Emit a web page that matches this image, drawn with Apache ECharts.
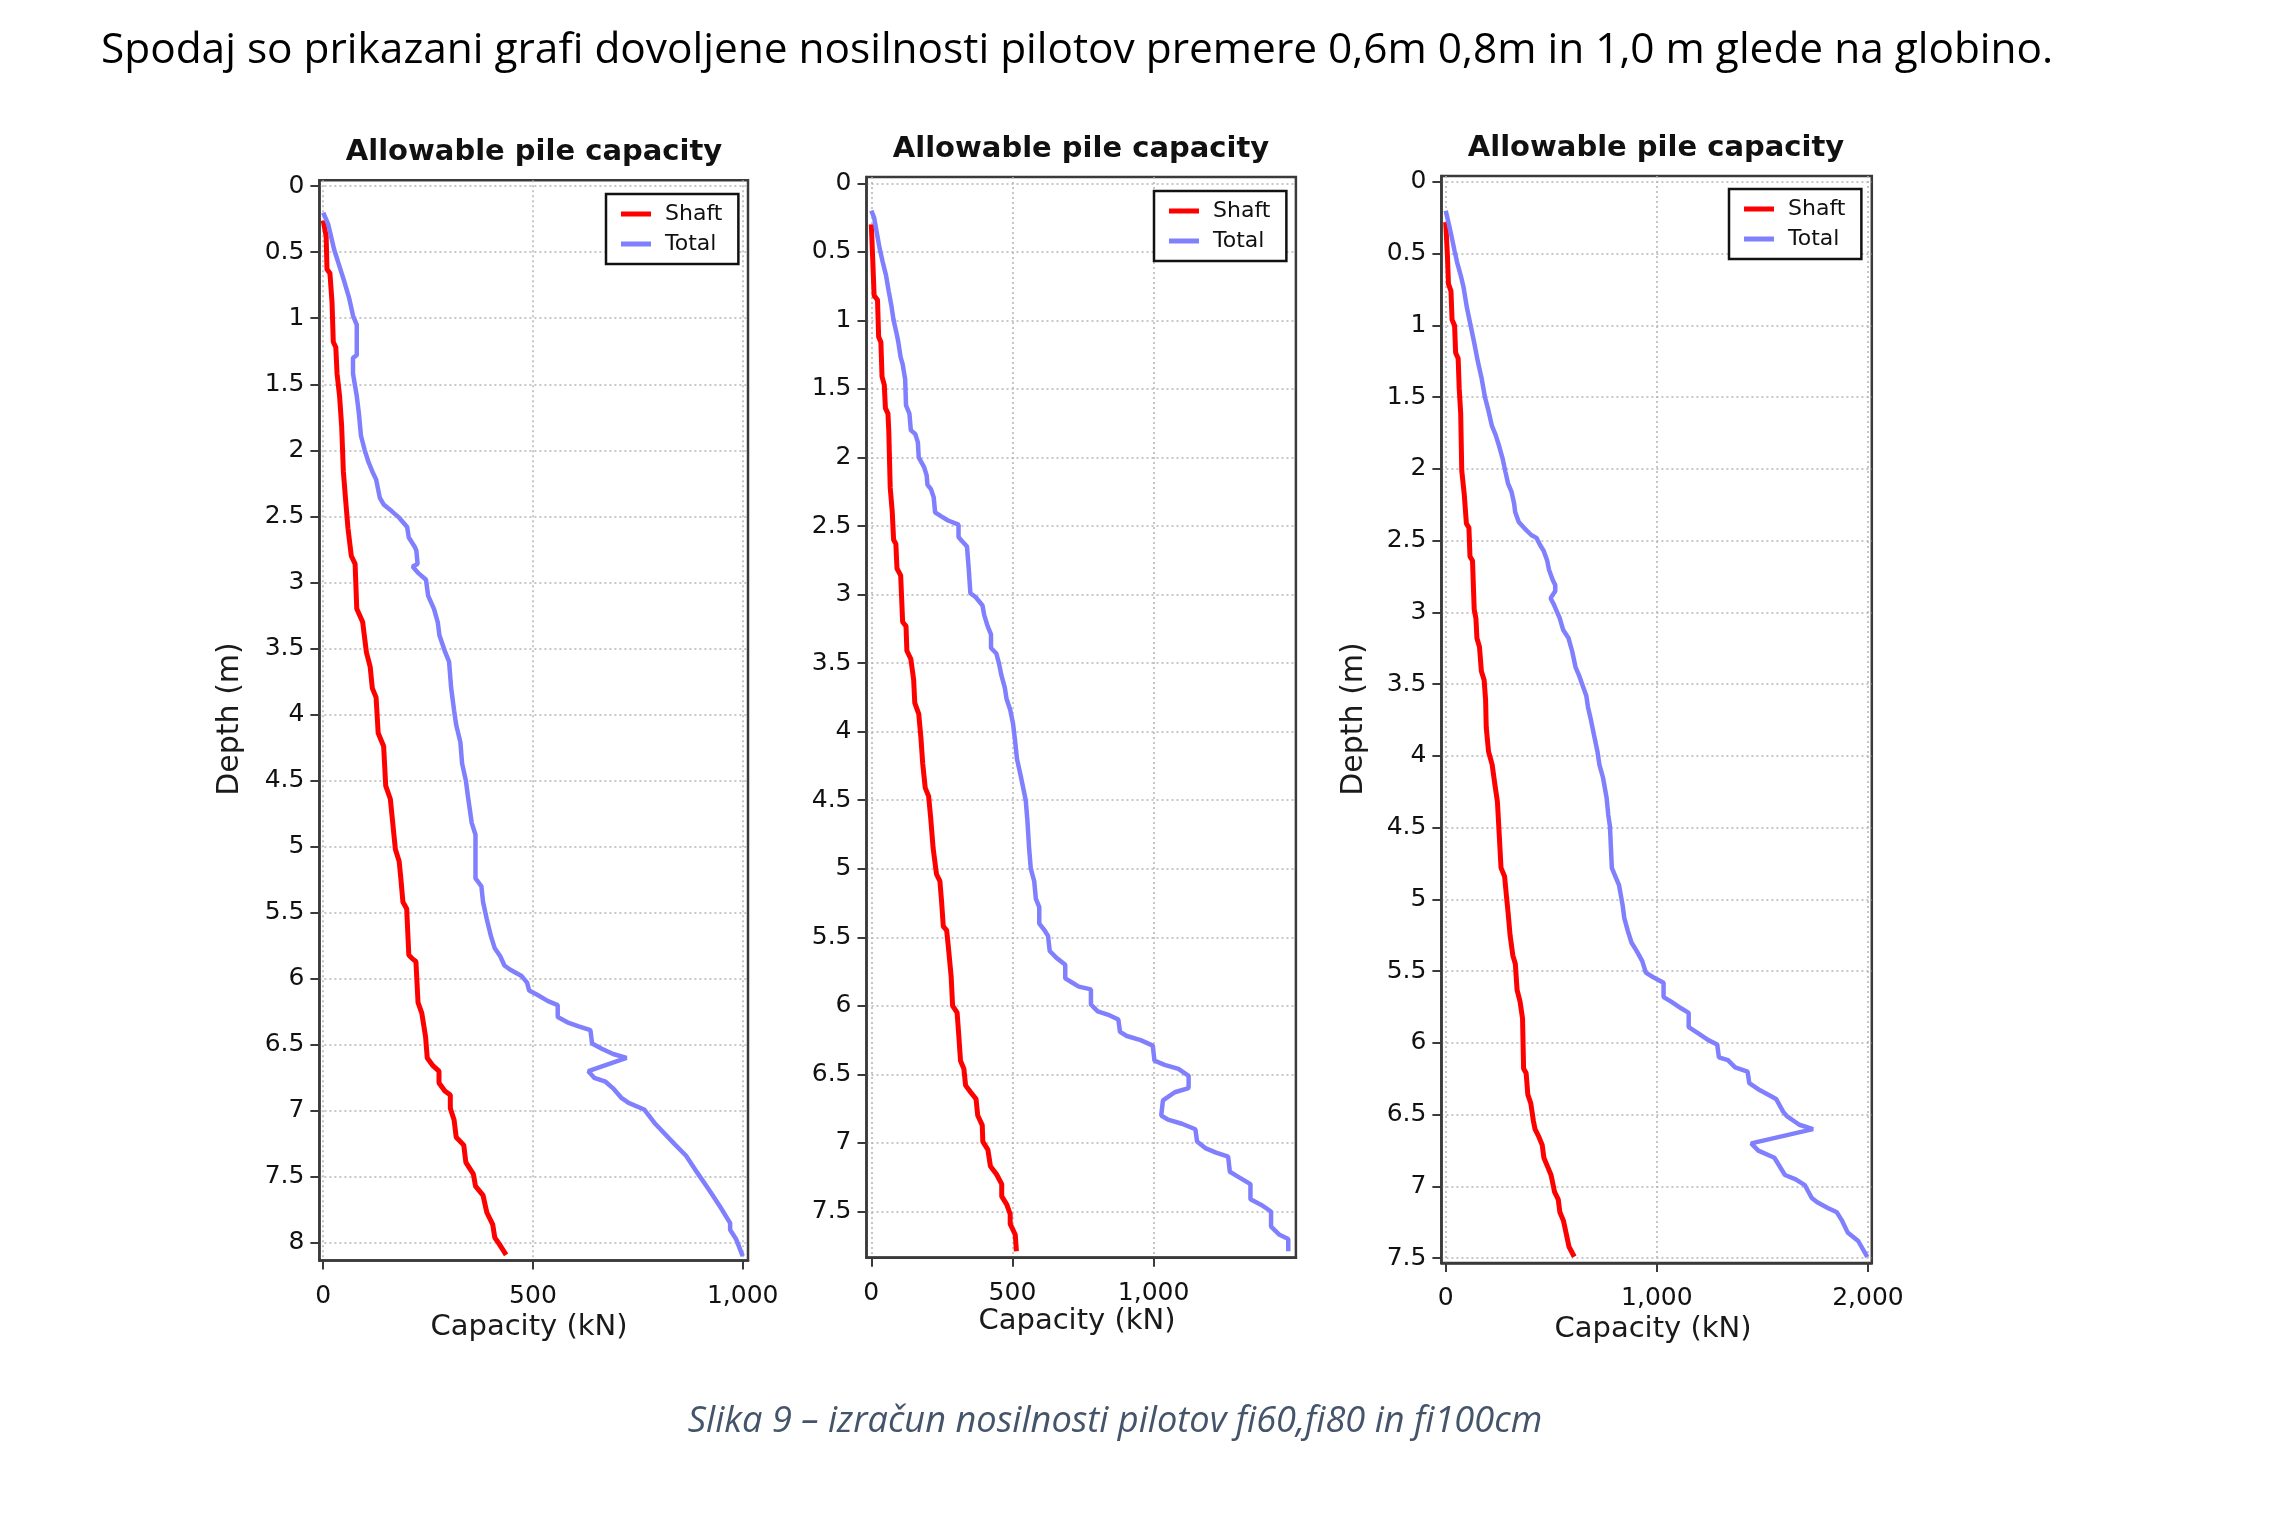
<!DOCTYPE html>
<html>
<head>
<meta charset="utf-8">
<title>Allowable pile capacity</title>
<script src="https://cdn.jsdelivr.net/npm/echarts@6/dist/echarts.min.js"></script>
<style>
  html, body { margin: 0; padding: 0; background: #fff; }
  #chart { width: 2282px; height: 1529px; }
</style>
</head>
<body>
<div id="chart"></div>
<script>
// pilot fi60 (0,6 m)
const shaft60Depth = [0.26, 0.38, 0.63, 0.66, 0.88, 1.18, 1.22, 1.42, 1.59, 1.82, 2.16, 2.36, 2.59, 2.8, 2.86, 3.2, 3.3, 3.53, 3.64, 3.8, 3.87, 4.14, 4.24, 4.54, 4.64, 5.02, 5.11, 5.24, 5.42, 5.47, 5.82, 5.85, 5.87, 6.18, 6.26, 6.44, 6.6, 6.66, 6.7, 6.79, 6.85, 6.88, 6.98, 7.07, 7.2, 7.26, 7.39, 7.48, 7.57, 7.64, 7.77, 7.86, 7.96, 8.02, 8.09]
const shaft60Cap = [0, 7, 9, 16, 21, 24, 30, 33, 39, 44, 48, 53, 59, 67, 76, 80, 94, 103, 112, 117, 126, 131, 144, 149, 160, 172, 181, 185, 190, 199, 204, 213, 221, 226, 235, 244, 248, 262, 276, 276, 290, 303, 303, 312, 317, 335, 340, 358, 363, 381, 390, 404, 409, 422, 436]
const total60Depth = [0.2, 0.29, 0.48, 0.71, 0.85, 0.98, 1.05, 1.28, 1.3, 1.42, 1.59, 1.72, 1.89, 2.0, 2.09, 2.16, 2.22, 2.36, 2.41, 2.46, 2.51, 2.58, 2.66, 2.73, 2.76, 2.86, 2.88, 2.93, 2.98, 3.1, 3.2, 3.3, 3.4, 3.53, 3.6, 3.8, 3.97, 4.08, 4.21, 4.37, 4.5, 4.62, 4.82, 4.91, 5.24, 5.3, 5.42, 5.55, 5.68, 5.77, 5.83, 5.9, 5.93, 5.98, 6.03, 6.09, 6.12, 6.17, 6.2, 6.29, 6.33, 6.36, 6.39, 6.49, 6.53, 6.57, 6.6, 6.7, 6.75, 6.78, 6.83, 6.9, 6.94, 6.99, 7.1, 7.25, 7.34, 7.47, 7.6, 7.73, 7.85, 7.9, 7.97, 8.1]
const total60Cap = [0, 12, 26, 49, 62, 71, 80, 80, 71, 71, 80, 85, 90, 99, 108, 117, 126, 135, 144, 163, 181, 200, 204, 218, 222, 225, 213, 227, 245, 250, 264, 273, 277, 291, 300, 305, 312, 317, 327, 331, 340, 345, 354, 363, 363, 377, 381, 390, 400, 409, 422, 432, 445, 473, 486, 491, 509, 536, 559, 559, 582, 609, 637, 641, 664, 691, 723, 632, 646, 673, 691, 710, 728, 765, 792, 837, 865, 892, 920, 947, 970, 970, 984, 1000]

// pilot fi80 (0,8 m)
const shaft80Depth = [0.3, 0.5, 0.82, 0.85, 1.12, 1.16, 1.41, 1.47, 1.64, 1.68, 1.81, 2.22, 2.39, 2.6, 2.63, 2.81, 2.86, 3.2, 3.23, 3.41, 3.47, 3.62, 3.79, 3.87, 4.05, 4.23, 4.41, 4.47, 4.62, 4.85, 5.04, 5.09, 5.24, 5.42, 5.45, 5.57, 5.79, 6.0, 6.05, 6.22, 6.4, 6.46, 6.58, 6.63, 6.68, 6.8, 6.87, 6.99, 7.05, 7.17, 7.23, 7.3, 7.39, 7.45, 7.52, 7.59, 7.67, 7.79]
const shaft80Cap = [0, 4, 10, 22, 26, 34, 38, 46, 50, 59, 62, 67, 74, 79, 87, 91, 104, 111, 123, 126, 140, 150, 154, 168, 176, 182, 191, 203, 210, 219, 231, 243, 249, 255, 267, 273, 283, 288, 304, 310, 316, 328, 334, 352, 371, 377, 393, 395, 413, 422, 444, 462, 462, 480, 492, 492, 510, 514]
const total80Depth = [0.2, 0.25, 0.39, 0.48, 0.57, 0.67, 0.79, 0.89, 1.0, 1.09, 1.15, 1.27, 1.32, 1.43, 1.62, 1.68, 1.8, 1.83, 1.89, 2.0, 2.07, 2.13, 2.2, 2.23, 2.29, 2.4, 2.43, 2.46, 2.49, 2.58, 2.61, 2.65, 2.81, 2.99, 3.02, 3.08, 3.15, 3.23, 3.29, 3.39, 3.43, 3.5, 3.59, 3.68, 3.76, 3.84, 3.94, 4.08, 4.2, 4.32, 4.44, 4.5, 4.65, 4.85, 5.0, 5.09, 5.22, 5.28, 5.4, 5.45, 5.49, 5.6, 5.65, 5.7, 5.8, 5.83, 5.86, 5.88, 5.99, 6.04, 6.07, 6.1, 6.19, 6.22, 6.25, 6.29, 6.4, 6.43, 6.46, 6.51, 6.6, 6.63, 6.69, 6.8, 6.83, 6.86, 6.9, 6.99, 7.04, 7.07, 7.1, 7.21, 7.24, 7.3, 7.41, 7.45, 7.5, 7.61, 7.67, 7.7, 7.79]
const total80Cap = [0, 10, 22, 30, 40, 52, 62, 71, 79, 89, 95, 104, 111, 120, 123, 135, 140, 156, 165, 168, 187, 196, 199, 211, 221, 226, 248, 272, 309, 309, 321, 339, 345, 351, 370, 394, 400, 412, 424, 424, 443, 452, 461, 473, 479, 492, 502, 510, 516, 529, 541, 547, 553, 559, 565, 577, 583, 595, 595, 614, 626, 632, 656, 687, 687, 711, 735, 778, 778, 802, 845, 875, 881, 905, 954, 997, 1003, 1039, 1088, 1124, 1124, 1075, 1033, 1027, 1051, 1100, 1148, 1154, 1185, 1221, 1264, 1270, 1294, 1343, 1343, 1380, 1416, 1416, 1446, 1477, 1477]

// pilot fi100 (1,0 m)
const shaft100Depth = [0.28, 0.51, 0.71, 0.76, 0.96, 1.0, 1.19, 1.23, 1.44, 1.61, 2.01, 2.18, 2.38, 2.41, 2.61, 2.64, 2.98, 3.04, 3.18, 3.24, 3.41, 3.47, 3.61, 3.8, 3.97, 4.06, 4.2, 4.32, 4.56, 4.78, 4.84, 4.98, 5.1, 5.25, 5.39, 5.45, 5.63, 5.71, 5.83, 6.18, 6.21, 6.36, 6.42, 6.54, 6.6, 6.65, 6.71, 6.8, 6.86, 6.92, 7.04, 7.09, 7.18, 7.24, 7.33, 7.42, 7.49]
const shaft100Cap = [0, 8, 13, 25, 30, 42, 47, 59, 64, 71, 76, 88, 98, 110, 115, 127, 135, 143, 148, 160, 169, 182, 189, 192, 203, 220, 233, 245, 254, 262, 279, 288, 296, 305, 318, 330, 338, 352, 364, 369, 381, 389, 403, 415, 423, 440, 457, 465, 482, 499, 516, 533, 541, 558, 571, 584, 609]
const total100Depth = [0.2, 0.25, 0.36, 0.48, 0.56, 0.65, 0.73, 0.88, 1.0, 1.12, 1.25, 1.36, 1.5, 1.59, 1.7, 1.76, 1.84, 1.93, 2.02, 2.1, 2.16, 2.24, 2.3, 2.37, 2.41, 2.46, 2.48, 2.53, 2.57, 2.64, 2.7, 2.77, 2.81, 2.85, 2.9, 2.95, 3.04, 3.12, 3.18, 3.27, 3.38, 3.44, 3.51, 3.58, 3.66, 3.75, 3.85, 3.97, 4.06, 4.15, 4.29, 4.41, 4.49, 4.78, 4.84, 4.9, 5.04, 5.13, 5.22, 5.3, 5.36, 5.43, 5.51, 5.54, 5.58, 5.68, 5.71, 5.76, 5.79, 5.89, 5.93, 5.98, 6.01, 6.1, 6.12, 6.17, 6.2, 6.28, 6.33, 6.39, 6.48, 6.51, 6.57, 6.6, 6.7, 6.75, 6.8, 6.92, 6.95, 6.99, 7.08, 7.11, 7.15, 7.18, 7.24, 7.32, 7.38, 7.49]
const total100Cap = [0, 8, 25, 42, 54, 71, 84, 101, 118, 135, 152, 169, 186, 202, 219, 236, 253, 270, 283, 295, 312, 324, 329, 346, 371, 405, 430, 447, 464, 481, 489, 506, 519, 519, 497, 514, 540, 556, 582, 599, 615, 632, 649, 666, 674, 688, 702, 719, 728, 745, 762, 770, 778, 787, 804, 821, 838, 846, 863, 880, 905, 931, 948, 981, 1032, 1032, 1066, 1117, 1151, 1151, 1193, 1244, 1286, 1294, 1337, 1371, 1430, 1438, 1489, 1565, 1599, 1616, 1675, 1740, 1447, 1481, 1557, 1607, 1658, 1701, 1734, 1760, 1810, 1853, 1878, 1904, 1954, 1997]

// tick labels
const depthTicks8 = [0, 0.5, 1, 1.5, 2, 2.5, 3, 3.5, 4, 4.5, 5, 5.5, 6, 6.5, 7, 7.5, 8]
const depthTicks75 = [0, 0.5, 1, 1.5, 2, 2.5, 3, 3.5, 4, 4.5, 5, 5.5, 6, 6.5, 7, 7.5]
const capTicks1000 = [0, 500, 1000]
const capTicks2000 = [0, 1000, 2000]

const headText = 'Spodaj so prikazani grafi dovoljene nosilnosti pilotov premere 0,6m 0,8m in 1,0 m glede na globino.'
const captionText = 'Slika 9 – izračun nosilnosti pilotov fi60,fi80 in fi100cm'

// tri grafi => okvir, obseg osi, položaj besedil
const panels = [
  {
    grid: { left: 319.4, top: 180.3, width: 428.6, height: 1080.3 },
    x: [-9.1, 1012.6], y: [-0.044, 8.134],
    xTicks: capTicks1000, yTicks: depthTicks8,
    shaft: [shaft60Depth, shaft60Cap], total: [total60Depth, total60Cap],
    title: [534, 152], xName: [529, 1327], yName: [230, 719], legend: [606, 194]
  },
  {
    grid: { left: 866.5, top: 177.1, width: 429.4, height: 1080.6 },
    x: [-17, 1504], y: [-0.045, 7.837],
    xTicks: capTicks1000, yTicks: depthTicks75,
    shaft: [shaft80Depth, shaft80Cap], total: [total80Depth, total80Cap],
    title: [1081, 149], xName: [1077, 1321], yName: null, legend: [1154, 191]
  },
  {
    grid: { left: 1441.4, top: 175.9, width: 430.4, height: 1087.2 },
    x: [-20.4, 2018.4], y: [-0.0425, 7.534],
    xTicks: capTicks2000, yTicks: depthTicks75,
    shaft: [shaft100Depth, shaft100Cap], total: [total100Depth, total100Cap],
    title: [1656, 148], xName: [1653, 1329], yName: [1354, 719], legend: [1729, 189]
  }
]

const axisColor = '#3a3a3a'
const font = 'DejaVu Sans'
const pairs = ([depth, cap]) => depth.map((d, i) => [cap[i], d])

const chart = echarts.init(document.querySelector('#chart'))

const graphic = [
  {
    type: 'text', x: 101, y: 51,
    style: { text: headText, font: '42.4px "Open Sans"', fill: '#000', textAlign: 'left', textVerticalAlign: 'middle', align: 'left', verticalAlign: 'middle' }
  },
  {
    type: 'text', x: 1115, y: 1422,
    style: { text: captionText, font: 'italic 36.2px "Open Sans"', fill: '#44546a', textAlign: 'center', textVerticalAlign: 'middle', align: 'center', verticalAlign: 'middle' }
  }
]
panels.forEach(p => {
  graphic.push({
    type: 'text', x: p.title[0], y: p.title[1],
    style: { text: 'Allowable pile capacity', font: `bold 29px "${font}"`, fill: '#111', textAlign: 'center', textVerticalAlign: 'middle', align: 'center', verticalAlign: 'middle' }
  })
  graphic.push({
    type: 'text', x: p.xName[0], y: p.xName[1],
    style: { text: 'Capacity (kN)', font: `29px "${font}"`, fill: '#1a1a1a', textAlign: 'center', textVerticalAlign: 'middle', align: 'center', verticalAlign: 'middle' }
  })
  if (p.yName) {
    graphic.push({
      type: 'text', x: p.yName[0], y: p.yName[1], rotation: Math.PI / 2,
      style: { text: 'Depth (m)', font: `30px "${font}"`, fill: '#1a1a1a', textAlign: 'center', textVerticalAlign: 'middle', align: 'center', verticalAlign: 'middle' }
    })
  }
})

const option = {
  animation: false,
  backgroundColor: '#fff',
  grid: panels.map(p => ({ ...p.grid, show: true, borderColor: axisColor, borderWidth: 2.5, backgroundColor: '#fff' })),
  xAxis: panels.map((p, i) => ({
    gridIndex: i,
    type: 'value',
    min: p.x[0],
    max: p.x[1],
    position: 'bottom',
    axisLine: { show: true, onZero: false, lineStyle: { color: axisColor, width: 2.5 } },
    axisTick: { show: true, length: 9, customValues: p.xTicks, lineStyle: { color: axisColor, width: 2 } },
    axisLabel: {
      customValues: p.xTicks,
      margin: 23,
      fontFamily: font,
      fontSize: 25,
      color: '#111',
      formatter: v => v.toLocaleString('en-US')
    },
    splitLine: { show: true, lineStyle: { type: [2, 3], color: '#b4b4b4', width: 1.5 } }
  })),
  yAxis: panels.map((p, i) => ({
    gridIndex: i,
    type: 'value',
    inverse: true,
    min: p.y[0],
    max: p.y[1],
    position: 'left',
    axisLine: { show: true, onZero: false, lineStyle: { color: axisColor, width: 2.5 } },
    axisTick: { show: true, length: 9, customValues: p.yTicks, lineStyle: { color: axisColor, width: 2 } },
    axisLabel: {
      customValues: p.yTicks,
      margin: 15,
      fontFamily: font,
      fontSize: 25,
      color: '#111',
      formatter: v => String(v)
    },
    splitLine: { show: true, lineStyle: { type: [2, 3], color: '#b4b4b4', width: 1.5 } }
  })),
  legend: panels.map(p => ({
    left: p.legend[0],
    top: p.legend[1],
    orient: 'vertical',
    selectedMode: false,
    data: ['Shaft', 'Total'],
    icon: 'rect',
    itemWidth: 30,
    itemHeight: 5,
    itemGap: 6,
    padding: [8, 16, 8, 15],
    borderColor: '#111',
    borderWidth: 2.5,
    backgroundColor: '#fff',
    textStyle: { fontFamily: font, fontSize: 22, color: '#111', lineHeight: 24, padding: [0, 0, 0, 9] }
  })),
  series: panels.flatMap((p, i) => [
    {
      name: 'Shaft',
      type: 'line',
      xAxisIndex: i,
      yAxisIndex: i,
      showSymbol: false,
      symbol: 'none',
      itemStyle: { color: '#ff0000' },
      lineStyle: { color: '#ff0000', width: 5 },
      data: pairs(p.shaft)
    },
    {
      name: 'Total',
      type: 'line',
      xAxisIndex: i,
      yAxisIndex: i,
      showSymbol: false,
      symbol: 'none',
      itemStyle: { color: '#8080ff' },
      lineStyle: { color: '#8080ff', width: 4.5 },
      data: pairs(p.total)
    }
  ]),
  graphic
}
chart.setOption(option)
</script>
</body>
</html>
